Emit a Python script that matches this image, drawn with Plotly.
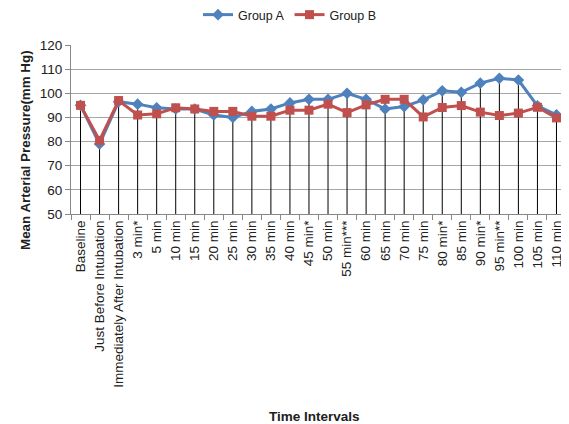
import plotly.graph_objects as go

categories = ["Baseline", "Just Before Intubation", "Immediately After Intubation",
              "3 min*", "5 min", "10 min", "15 min", "20 min", "25 min", "30 min",
              "35 min", "40 min", "45 min*", "50 min", "55 min***", "60 min", "65 min",
              "70 min", "75 min", "80 min*", "85 min", "90 min*", "95 min**", "100 min",
              "105 min", "110 min"]
group_a = [95, 79, 96.5, 95.5, 94, 93.5, 93.5, 91, 90, 92.5, 93.5, 96, 97.5, 97.5,
           100, 97.5, 93.5, 94.5, 97.3, 101, 100.4, 104.2, 106.2, 105.5, 94.8, 91.1]
group_b = [95, 80.5, 97, 91, 91.5, 94, 93.5, 92.5, 92.5, 90.5, 90.5, 93, 93, 95.5,
           92, 95.2, 97.5, 97.5, 90.2, 94.1, 94.9, 92.2, 90.8, 91.8, 94.2, 89.8]
y_ticks = [50, 60, 70, 80, 90, 100, 110, 120]

FONT = "Liberation Sans"
OFF = 8  # page body margin offset
W, H = 569 - OFF, 424 - OFF
# plot area in page pixels: left 71, right ~566, top 45, bottom 214
L, R, T = 71 - OFF, 3, 45 - OFF
B = H - (214 - OFF)
PW, PH = W - L - R, H - T - B


def px(xp):
    return (xp - OFF - L) / PW


def py(yp):
    return (H - B - (yp - OFF)) / PH


# drop lines from the higher series down to the axis floor
drop_x, drop_y = [], []
for c, a, b in zip(categories, group_a, group_b):
    drop_x += [c, c, None]
    drop_y += [y_ticks[0], max(a, b), None]

fig = go.Figure()
fig.add_trace(go.Scatter(x=drop_x, y=drop_y, mode="lines",
                         line=dict(color="black", width=1),
                         showlegend=False, hoverinfo="skip"))
fig.add_trace(go.Scatter(x=categories, y=group_a, name="Group A", mode="lines+markers",
                         line=dict(color="#4F81BD", width=3),
                         marker=dict(symbol="diamond", size=9, color="#4F81BD")))
fig.add_trace(go.Scatter(x=categories, y=group_b, name="Group B", mode="lines+markers",
                         line=dict(color="#C0504D", width=3),
                         marker=dict(symbol="square", size=9, color="#C0504D")))

fig.update_layout(
    width=W, height=H,
    margin=dict(l=L, r=R, t=T, b=B, autoexpand=False),
    paper_bgcolor="white", plot_bgcolor="white",
    font=dict(family=FONT, size=12, color="#202020"),
    legend=dict(orientation="h", xref="container", yref="container",
                x=(290 - OFF) / W, xanchor="center", y=1 - (15 - OFF) / H, yanchor="middle",
                font=dict(size=12.5, color="#202020"), itemwidth=30),
    xaxis=dict(type="category", categoryorder="array", categoryarray=categories,
               tickangle=-90, tickfont=dict(size=13.5, color="#202020"),
               showline=True, linecolor="#888888", linewidth=1,
               ticks="outside", tickson="boundaries", ticklen=5, tickcolor="#888888",
               showgrid=False, range=[-0.5, len(categories) - 0.5], automargin=False),
    yaxis=dict(range=[50, 120], tickvals=y_ticks, tickfont=dict(size=13.5, color="#202020"),
               showline=True, linecolor="#888888", linewidth=1,
               ticks="outside", ticklen=5, tickcolor="#888888",
               showgrid=True, gridcolor="#A6A6A6", gridwidth=1,
               zeroline=False, automargin=False),
    annotations=[
        dict(text="<b>Time Intervals</b>", xref="paper", yref="paper",
             x=px(314), y=py(417),
             xanchor="center", yanchor="middle", showarrow=False,
             font=dict(size=13.5, color="#202020")),
        dict(text="<b>Mean Arterial Pressure(mm Hg)</b>", xref="paper", yref="paper",
             x=px(25), y=py(150), textangle=-90,
             xanchor="center", yanchor="middle", showarrow=False,
             font=dict(size=13.4, color="#202020")),
    ],
)

fig.write_html("out.html")
